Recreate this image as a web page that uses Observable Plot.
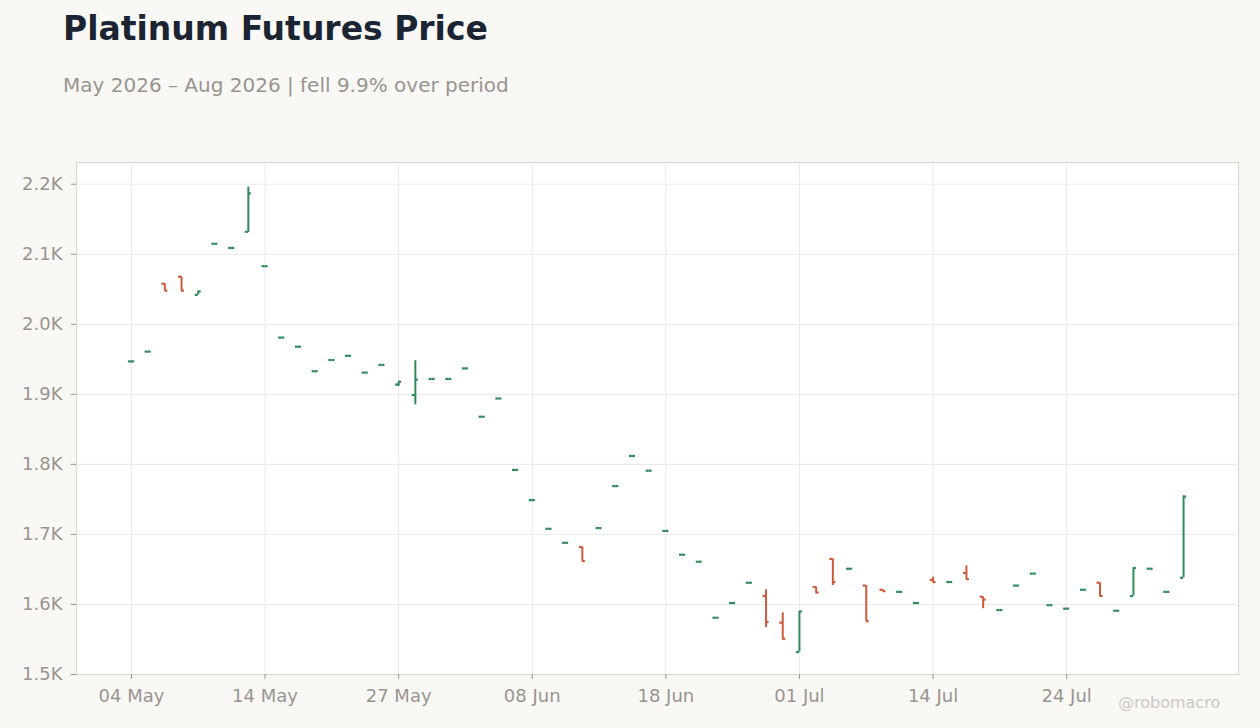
<!DOCTYPE html>
<html>
<head>
<meta charset="utf-8">
<script src="https://cdn.jsdelivr.net/npm/d3@7"></script>
<script src="https://cdn.jsdelivr.net/npm/@observablehq/plot@0.6"></script>
<style>
  html, body { margin: 0; padding: 0; background: #f9f8f5; }
  body { width: 1260px; height: 728px; position: relative; overflow: hidden; font-family: "DejaVu Sans", sans-serif; }
  #title { position: absolute; left: 63px; top: 12px; font-size: 33px; line-height: 33px; font-weight: bold; color: #1b2433; margin: 0; white-space: nowrap; }
  #subtitle { position: absolute; left: 63px; top: 75px; font-size: 20px; line-height: 20px; color: #9a948e; margin: 0; white-space: nowrap; }
  #chart { position: absolute; left: 0; top: 140px; }
  #credit { position: absolute; left: 1118px; top: 695px; font-size: 16px; line-height: 16px; color: #cdc8c2; white-space: nowrap; }
</style>
</head>
<body>
<div id="title">Platinum Futures Price</div>
<div id="subtitle">May 2026 – Aug 2026 | fell 9.9% over period</div>
<div id="chart"></div>
<div id="credit">@robomacro</div>
<script>
const dates = [
  "2026-05-04","2026-05-05","2026-05-06","2026-05-07","2026-05-08",
  "2026-05-11","2026-05-12","2026-05-13","2026-05-14","2026-05-15",
  "2026-05-18","2026-05-19","2026-05-20","2026-05-21","2026-05-22",
  "2026-05-26","2026-05-27","2026-05-28","2026-05-29",
  "2026-06-01","2026-06-02","2026-06-03","2026-06-04","2026-06-05",
  "2026-06-08","2026-06-09","2026-06-10","2026-06-11","2026-06-12",
  "2026-06-15","2026-06-16","2026-06-17","2026-06-18",
  "2026-06-22","2026-06-23","2026-06-24","2026-06-25","2026-06-26",
  "2026-06-29","2026-06-30","2026-07-01","2026-07-02",
  "2026-07-06","2026-07-07","2026-07-08","2026-07-09","2026-07-10",
  "2026-07-13","2026-07-14","2026-07-15","2026-07-16","2026-07-17",
  "2026-07-20","2026-07-21","2026-07-22","2026-07-23","2026-07-24",
  "2026-07-27","2026-07-28","2026-07-29","2026-07-30","2026-07-31",
  "2026-08-03","2026-08-04"
];
const open = [
  1947,1961,2058,2068,2042,2115,2109,2132,2083,1981,
  1968,1933,1949,1955,1931,1942,1914,1899,1922,1922,
  1937,1868,1894,1792,1749,1708,1688,1682,1709,1769,
  1812,1791,1705,1671,1661,1581,1602,1631,1612,1574,
  1532,1625,1665,1651,1627,1621,1618,1602,1635,1632,
  1645,1611,1592,1627,1644,1599,1594,1621,1631,1591,
  1612,1651,1618,1638
];
const high = [
  1947,1961,2058,2068,2047,2115,2109,2196,2083,1981,
  1968,1933,1949,1955,1931,1942,1918,1948,1922,1922,
  1937,1868,1894,1792,1749,1708,1688,1682,1709,1769,
  1812,1791,1705,1671,1661,1581,1602,1631,1621,1588,
  1590,1625,1665,1651,1627,1621,1618,1602,1639,1632,
  1655,1611,1592,1627,1644,1599,1594,1621,1631,1591,
  1652,1651,1618,1755
];
const low = [
  1947,1961,2048,2048,2042,2115,2109,2131,2083,1981,
  1968,1933,1949,1955,1931,1942,1911,1885,1922,1922,
  1937,1868,1894,1792,1749,1708,1688,1662,1709,1769,
  1812,1791,1705,1671,1661,1581,1602,1631,1567,1550,
  1532,1616,1627,1651,1576,1619,1618,1602,1632,1632,
  1636,1594,1592,1627,1644,1599,1594,1621,1611,1591,
  1612,1651,1618,1638
];
const close = [
  1947,1961,2048,2048,2047,2115,2109,2187,2083,1981,
  1968,1933,1949,1955,1931,1942,1918,1921,1922,1922,
  1937,1868,1894,1792,1749,1708,1688,1662,1709,1769,
  1812,1791,1705,1671,1661,1581,1602,1631,1575,1551,
  1590,1617,1632,1651,1576,1619,1618,1602,1632,1632,
  1636,1607,1592,1627,1644,1599,1594,1621,1612,1591,
  1652,1651,1618,1754
];
const xTicks = ["2026-05-04","2026-05-14","2026-05-27","2026-06-08","2026-06-18","2026-07-01","2026-07-14","2026-07-24"];
const yTicks = [1500,1600,1700,1800,1900,2000,2100,2200];

const rows = dates.map((d, i) => ({date: d, open: open[i], high: high[i], low: low[i], close: close[i]}));
const up = "#2e8b57", down = "#cc5a3a";
const col = d => d.close >= d.open ? up : down;
const fmtDate = d3.utcFormat("%d %b");

const chart = Plot.plot({
  width: 1260,
  height: 588,
  marginTop: 22,
  marginBottom: 54,
  marginLeft: 76,
  marginRight: 22,
  style: {background: "transparent", fontFamily: "DejaVu Sans, sans-serif", fontSize: "18px", color: "#9a948e", overflow: "visible"},
  x: {type: "band", domain: dates, paddingInner: 0.64, paddingOuter: 3.11, label: null},
  y: {domain: [1500, 2231], label: null},
  marks: [
    Plot.frame({fill: "#ffffff", stroke: "none"}),
    Plot.gridY(yTicks, {stroke: "#ebe9e6", strokeOpacity: 1, strokeWidth: 1}),
    Plot.gridX(xTicks, {stroke: "#ebe9e6", strokeOpacity: 1, strokeWidth: 1}),
    Plot.frame({stroke: "#ddd8d0", strokeWidth: 1.2}),
    Plot.axisY(yTicks, {tickFormat: d => (d / 1000).toFixed(1) + "K", tickSize: 5, tickPadding: 9, stroke: "#9a948e", fill: "#9a948e", label: null}),
    Plot.axisX(xTicks, {tickFormat: d => fmtDate(new Date(d)), tickSize: 5, tickPadding: 10, stroke: "#9a948e", fill: "#9a948e", label: null}),
    Plot.ruleX(rows, {x: "date", y1: "low", y2: "high", stroke: col, strokeWidth: 2}),
    Plot.tickY(rows, {x: "date", y: "open", stroke: col, strokeWidth: 2.2, insetRight: 3}),
    Plot.tickY(rows, {x: "date", y: "close", stroke: col, strokeWidth: 2.2, insetLeft: 3})
  ]
});
document.getElementById("chart").appendChild(chart);
</script>
</body>
</html>
